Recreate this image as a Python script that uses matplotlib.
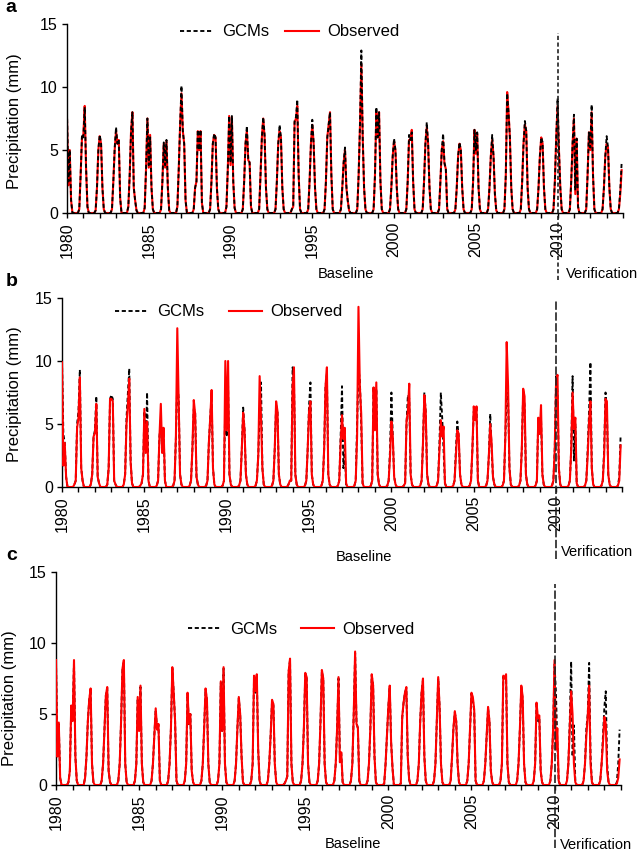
import numpy as np
import matplotlib
matplotlib.use("Agg")
import matplotlib.pyplot as plt
from matplotlib.lines import Line2D

plt.rcParams['font.family'] = ['Liberation Sans', 'DejaVu Sans']

# ---------------- data ----------------
# each season row = [Oct, Nov, Dec (previous year), Jan, Feb, Mar, Apr] for years 1980..2013
start_year = 1980
n_years = 34
tick_years = list(range(1980, 2015))
tick_labels = [str(y) if y % 5 == 0 and y <= 2010 else '' for y in tick_years]
y_ticks = [0, 5, 10, 15]
series_names = ['GCMs', 'Observed']
panel_letters = ['a', 'b', 'c']

obs_a = [
    [0, 0, 0, 7.5, 2.2, 5.0, 1.0], [0.3, 3.0, 6.0, 6.2, 8.5, 3.5, 0.5],
    [0.2, 2.0, 5.0, 6.1, 5.5, 2.0, 0.3], [0.3, 2.5, 5.0, 6.5, 5.5, 5.8, 1.2],
    [0.5, 3.0, 6.5, 8.0, 2.0, 1.0, 0.2], [0.4, 3.5, 7.5, 3.6, 6.2, 2.0, 0.3],
    [0.3, 2.5, 5.5, 3.6, 5.7, 2.0, 0.2], [0.5, 3.5, 7.0, 9.5, 6.5, 5.5, 1.0],
    [0.3, 2.0, 2.5, 6.5, 5.0, 6.5, 0.8], [0.3, 2.5, 5.5, 6.2, 6.0, 2.0, 0.3],
    [0.5, 3.5, 7.7, 3.8, 7.6, 2.5, 0.4], [0.3, 2.5, 5.5, 6.5, 4.2, 4.0, 0.5],
    [0.3, 3.0, 6.0, 7.5, 6.0, 2.0, 0.3], [0.3, 2.5, 5.5, 6.5, 6.0, 2.0, 0.3],
    [0.3, 0.5, 7.2, 7.5, 8.5, 3.0, 0.3], [0.3, 2.5, 5.5, 7.0, 5.5, 2.0, 0.3],
    [0.3, 2.5, 6.0, 7.0, 8.0, 3.0, 0.3], [0.3, 2.0, 4.0, 5.0, 2.0, 1.0, 0.2],
    [0.3, 3.0, 7.0, 11.8, 6.0, 2.0, 0.3], [0.3, 3.0, 8.0, 6.0, 8.0, 2.5, 0.3],
    [0.3, 2.0, 4.5, 5.7, 5.0, 2.0, 0.3], [0.3, 2.5, 5.8, 5.8, 6.6, 2.5, 0.3],
    [0.3, 2.5, 5.5, 6.8, 5.5, 2.0, 0.3], [0.3, 2.5, 5.0, 5.7, 3.9, 3.5, 0.3],
    [0.3, 2.0, 4.5, 5.5, 5.0, 2.0, 0.3], [0.3, 2.5, 6.6, 4.7, 6.3, 2.0, 0.3],
    [0.3, 2.0, 4.5, 5.8, 4.5, 1.5, 0.2], [0.3, 3.0, 9.6, 8.0, 6.0, 2.0, 0.3],
    [0.3, 2.5, 5.5, 7.0, 6.5, 2.0, 0.3], [0.3, 2.0, 4.5, 6.0, 5.5, 2.0, 0.3],
    [0.3, 2.5, 6.0, 8.5, 5.0, 2.0, 0.3], [0.3, 2.5, 5.5, 7.5, 1.5, 5.9, 0.5],
    [0.3, 3.0, 6.4, 5.0, 8.0, 3.0, 0.3], [0.3, 2.0, 4.5, 5.5, 5.2, 2.0, 0.3],
]
obs_a_tail = [0.3, 1.5, 3.4]   # Oct-Dec 2013

gcm_a = [
    [0, 0, 0, 8.0, 2.5, 5.0, 1.0], [0.3, 3.0, 6.2, 6.0, 8.4, 3.6, 0.5],
    [0.2, 2.0, 5.0, 6.2, 5.5, 2.0, 0.3], [0.3, 2.5, 5.2, 6.8, 5.5, 5.8, 1.2],
    [0.5, 3.0, 6.5, 8.0, 2.0, 1.0, 0.2], [0.4, 3.5, 7.5, 3.8, 6.0, 2.0, 0.3],
    [0.3, 2.5, 5.6, 3.8, 5.8, 2.0, 0.2], [0.5, 3.5, 7.0, 10.1, 6.5, 5.5, 1.0],
    [0.3, 2.0, 2.5, 6.6, 5.0, 6.6, 0.8], [0.3, 2.5, 5.5, 6.3, 6.0, 2.0, 0.3],
    [0.5, 3.5, 7.7, 4.0, 7.7, 2.5, 0.4], [0.3, 2.5, 5.5, 6.9, 4.3, 4.0, 0.5],
    [0.3, 3.0, 6.0, 7.6, 6.2, 2.0, 0.3], [0.3, 2.5, 5.5, 7.0, 6.0, 2.0, 0.3],
    [0.3, 0.5, 7.3, 7.6, 9.0, 3.0, 0.3], [0.3, 2.5, 5.5, 7.4, 5.5, 2.0, 0.3],
    [0.3, 2.5, 6.0, 7.0, 8.0, 3.0, 0.3], [0.3, 2.0, 4.0, 5.2, 2.2, 1.0, 0.2],
    [0.3, 3.0, 7.0, 12.9, 6.0, 2.0, 0.3], [0.3, 3.0, 8.4, 6.0, 8.0, 2.5, 0.3],
    [0.3, 2.0, 4.5, 5.9, 5.0, 2.0, 0.3], [0.3, 2.5, 6.2, 5.8, 6.4, 2.5, 0.3],
    [0.3, 2.5, 5.5, 7.2, 5.5, 2.0, 0.3], [0.3, 2.5, 5.0, 6.3, 4.0, 3.5, 0.3],
    [0.3, 2.0, 4.5, 5.6, 5.0, 2.0, 0.3], [0.3, 2.5, 6.6, 5.0, 6.4, 2.0, 0.3],
    [0.3, 2.0, 4.5, 6.2, 4.5, 1.5, 0.2], [0.3, 3.0, 9.5, 8.0, 6.0, 2.0, 0.3],
    [0.3, 2.5, 5.5, 7.3, 6.5, 2.0, 0.3], [0.3, 2.0, 4.5, 6.0, 5.6, 2.0, 0.3],
    [0.3, 2.5, 6.0, 9.1, 5.0, 2.0, 0.3], [0.3, 2.5, 5.5, 7.8, 1.8, 5.9, 0.5],
    [0.3, 3.0, 6.4, 5.2, 8.6, 3.0, 0.3], [0.3, 2.0, 4.5, 6.1, 5.2, 2.0, 0.3],
]
gcm_a_tail = [0.3, 1.8, 4.0]

obs_b = [
    [0, 0, 0, 9.9, 1.7, 3.5, 0.8], [0.2, 0.5, 4.7, 5.5, 8.7, 1.5, 0.5],
    [0.2, 1.0, 4.0, 4.3, 6.6, 0.8, 0.3], [0.2, 1.5, 7.0, 7.0, 6.8, 0.5, 0.2],
    [0.2, 1.0, 5.0, 6.5, 8.6, 2.0, 0.3], [0.1, 0.3, 1.0, 6.2, 2.7, 5.2, 0.5],
    [0.1, 0.5, 4.0, 6.6, 2.7, 4.7, 0.5], [0.1, 0.5, 4.0, 12.6, 7.0, 1.0, 0.2],
    [0.1, 0.5, 3.0, 6.9, 5.8, 0.8, 0.2], [0.1, 0.5, 3.5, 5.5, 7.7, 1.5, 0.2],
    [0.1, 0.5, 10.0, 4.5, 10.0, 1.0, 0.2], [0.1, 0.5, 3.0, 5.9, 4.5, 1.0, 0.2],
    [0.1, 0.5, 2.5, 8.8, 5.5, 1.5, 0.2], [0.1, 0.5, 3.0, 6.8, 6.0, 1.0, 0.2],
    [0.2, 0.5, 0.5, 8.0, 9.5, 1.0, 0.2], [0.1, 0.5, 3.0, 6.0, 6.8, 1.0, 0.2],
    [0.1, 0.5, 3.0, 8.0, 9.5, 1.0, 0.2], [0.1, 0.5, 3.5, 5.7, 3.8, 4.7, 0.3],
    [0.1, 0.5, 4.0, 14.3, 8.0, 5.8, 0.3], [0.1, 0.5, 7.9, 4.5, 8.3, 1.0, 0.2],
    [0.1, 0.5, 2.5, 5.2, 4.0, 0.8, 0.2], [0.1, 0.3, 5.2, 6.0, 8.2, 1.0, 0.2],
    [0.1, 0.5, 3.5, 7.3, 6.0, 1.0, 0.2], [0.1, 0.5, 3.0, 5.3, 4.0, 4.8, 0.3],
    [0.1, 0.5, 2.5, 4.5, 4.2, 1.0, 0.2], [0.1, 0.5, 3.0, 6.4, 5.3, 6.4, 0.5],
    [0.1, 0.5, 2.5, 5.0, 3.5, 0.8, 0.2], [0.1, 0.5, 4.0, 11.5, 8.0, 1.5, 0.2],
    [0.1, 0.5, 3.0, 7.8, 7.2, 1.0, 0.2], [0.1, 0.5, 5.5, 4.2, 6.5, 1.0, 0.2],
    [0.1, 0.5, 3.0, 8.5, 8.9, 1.5, 0.2], [0.1, 0.5, 3.0, 7.5, 4.6, 5.5, 0.3],
    [0.1, 0.5, 2.5, 5.2, 6.8, 1.5, 0.2], [0.1, 0.5, 2.5, 7.0, 6.8, 1.0, 0.2],
]
obs_b_tail = [0.1, 0.5, 3.3]

gcm_b = [
    [0, 0, 0, 10.0, 4.2, 3.5, 0.8], [0.2, 0.5, 5.0, 6.0, 9.3, 1.5, 0.5],
    [0.2, 1.0, 4.0, 4.5, 7.2, 0.8, 0.3], [0.2, 1.5, 7.0, 7.3, 7.0, 0.5, 0.2],
    [0.2, 1.0, 5.5, 7.5, 9.4, 2.0, 0.3], [0.1, 0.3, 1.0, 6.0, 3.0, 7.5, 0.5],
    [0.1, 0.5, 4.0, 5.3, 3.0, 4.5, 0.5], [0.1, 0.5, 4.0, 8.5, 7.0, 1.0, 0.2],
    [0.1, 0.5, 3.0, 6.2, 6.0, 0.8, 0.2], [0.1, 0.5, 3.5, 5.5, 7.3, 1.5, 0.2],
    [0.1, 0.5, 7.0, 4.0, 8.0, 1.0, 0.2], [0.1, 0.5, 3.0, 6.3, 4.5, 1.0, 0.2],
    [0.1, 0.5, 2.5, 6.0, 8.3, 1.5, 0.2], [0.1, 0.5, 3.0, 6.5, 6.0, 1.0, 0.2],
    [0.2, 0.5, 0.5, 9.5, 8.5, 1.0, 0.2], [0.1, 0.5, 3.0, 6.5, 8.3, 1.0, 0.2],
    [0.1, 0.5, 3.0, 8.0, 9.0, 1.0, 0.2], [0.1, 0.5, 4.0, 8.0, 1.5, 3.0, 0.2],
    [0.1, 0.5, 5.0, 9.4, 8.5, 5.0, 0.3], [0.1, 0.5, 8.0, 5.0, 7.8, 1.0, 0.2],
    [0.1, 0.5, 3.0, 7.5, 4.0, 0.8, 0.2], [0.1, 0.3, 5.0, 7.3, 7.0, 1.0, 0.2],
    [0.1, 0.5, 3.5, 7.5, 6.0, 1.0, 0.2], [0.1, 0.5, 3.5, 7.5, 5.5, 3.0, 0.3],
    [0.1, 0.5, 3.0, 5.2, 4.0, 1.0, 0.2], [0.1, 0.5, 3.0, 6.0, 5.5, 6.4, 0.5],
    [0.1, 0.5, 2.5, 5.8, 3.0, 0.8, 0.2], [0.1, 0.5, 4.0, 7.5, 7.0, 1.5, 0.2],
    [0.1, 0.5, 3.0, 7.5, 6.5, 1.0, 0.2], [0.1, 0.5, 5.5, 4.5, 5.5, 1.0, 0.2],
    [0.1, 0.5, 3.0, 8.8, 7.5, 1.5, 0.2], [0.1, 0.5, 3.0, 8.8, 2.1, 5.0, 0.3],
    [0.1, 0.5, 3.0, 6.0, 9.9, 1.5, 0.2], [0.1, 0.5, 3.0, 7.5, 6.0, 1.0, 0.2],
]
gcm_b_tail = [0.1, 0.8, 4.1]

obs_c = [
    [0, 0, 0, 8.8, 2.0, 4.4, 0.5], [0.2, 1.0, 5.6, 4.5, 8.8, 2.0, 0.3],
    [0.5, 2.0, 4.5, 6.0, 6.8, 1.5, 0.2], [0.3, 1.5, 4.0, 6.3, 6.9, 1.0, 0.2],
    [0.3, 1.5, 4.5, 8.2, 8.8, 1.5, 0.2], [0.3, 1.5, 6.2, 3.8, 7.0, 1.5, 0.2],
    [0.3, 1.5, 3.5, 5.4, 3.9, 4.3, 0.3], [0.3, 1.5, 4.0, 8.3, 6.5, 4.5, 0.3],
    [0.3, 1.5, 6.5, 4.3, 5.0, 1.0, 0.2], [0.3, 1.5, 4.0, 6.8, 6.0, 1.5, 0.2],
    [0.3, 1.5, 7.3, 3.8, 8.3, 1.5, 0.2], [0.3, 1.5, 4.0, 6.2, 5.0, 2.0, 0.2],
    [0.3, 1.5, 7.7, 6.6, 7.8, 2.5, 0.3], [0.3, 1.5, 3.5, 6.0, 5.7, 1.5, 0.2],
    [0.1, 0.3, 0.6, 8.0, 8.9, 1.5, 0.2], [0.3, 1.5, 4.0, 7.9, 7.6, 1.5, 0.2],
    [0.3, 1.5, 4.5, 8.1, 7.5, 1.5, 0.2], [0.3, 1.5, 4.0, 7.6, 1.6, 2.3, 0.2],
    [0.3, 1.5, 5.0, 9.4, 4.3, 4.0, 0.3], [0.3, 1.5, 4.0, 7.8, 7.0, 2.0, 0.2],
    [0.1, 1.5, 3.5, 5.5, 7.0, 3.0, 1.2], [0.1, 4.8, 5.8, 6.5, 6.9, 2.0, 0.4],
    [0.3, 1.5, 4.5, 6.5, 7.5, 2.0, 0.3], [0.3, 1.5, 4.5, 7.6, 5.5, 1.5, 0.2],
    [0.3, 2.0, 4.0, 5.2, 4.5, 1.5, 0.2], [0.3, 1.5, 4.0, 6.5, 6.2, 5.3, 0.3],
    [0.3, 1.5, 3.5, 5.5, 4.5, 1.0, 0.2], [0.3, 1.5, 7.7, 7.5, 7.8, 1.5, 0.2],
    [0.3, 1.5, 4.0, 7.0, 6.2, 1.5, 0.2], [0.3, 1.5, 5.8, 4.7, 4.9, 1.0, 0.2],
    [0.3, 1.5, 4.0, 8.8, 2.5, 4.0, 0.3], [0.3, 1.5, 4.0, 6.6, 5.0, 1.5, 0.2],
    [0.3, 1.5, 3.5, 4.9, 7.0, 1.5, 0.2], [0.3, 1.5, 3.0, 4.8, 4.3, 1.0, 0.2],
]
obs_c_tail = [0.1, 0.5, 1.8]

gcm_c = [
    [0, 0, 0, 8.7, 2.2, 4.3, 0.5], [0.2, 1.0, 5.5, 4.5, 8.7, 2.0, 0.3],
    [0.5, 2.0, 4.5, 6.0, 6.7, 1.5, 0.2], [0.3, 1.5, 4.0, 6.3, 6.8, 1.0, 0.2],
    [0.3, 1.5, 4.5, 8.1, 8.7, 1.5, 0.2], [0.3, 1.5, 6.1, 3.8, 6.9, 1.5, 0.2],
    [0.3, 1.5, 3.5, 5.3, 3.9, 4.2, 0.3], [0.3, 1.5, 4.0, 8.2, 6.5, 4.5, 0.3],
    [0.3, 1.5, 6.4, 4.2, 5.0, 1.0, 0.2], [0.3, 1.5, 4.0, 6.7, 6.0, 1.5, 0.2],
    [0.3, 1.5, 7.2, 3.8, 8.2, 1.5, 0.2], [0.3, 1.5, 4.0, 6.1, 5.0, 2.0, 0.2],
    [0.3, 1.5, 7.6, 6.5, 7.7, 2.5, 0.3], [0.3, 1.5, 3.5, 5.9, 5.6, 1.5, 0.2],
    [0.1, 0.3, 0.6, 8.0, 8.8, 1.5, 0.2], [0.3, 1.5, 4.0, 7.8, 7.6, 1.5, 0.2],
    [0.3, 1.5, 4.5, 8.0, 7.4, 1.5, 0.2], [0.3, 1.5, 4.0, 7.5, 2.0, 2.2, 0.2],
    [0.3, 1.5, 5.0, 9.3, 4.4, 4.0, 0.3], [0.3, 1.5, 4.0, 7.7, 7.0, 2.0, 0.2],
    [0.1, 1.5, 3.5, 5.5, 6.9, 3.0, 1.2], [0.1, 4.7, 5.8, 6.5, 6.8, 2.0, 0.4],
    [0.3, 1.5, 4.5, 6.5, 7.4, 2.0, 0.3], [0.3, 1.5, 4.5, 7.5, 5.5, 1.5, 0.2],
    [0.3, 2.0, 4.0, 5.1, 4.5, 1.5, 0.2], [0.3, 1.5, 4.0, 6.4, 6.0, 5.2, 0.3],
    [0.3, 1.5, 3.5, 5.4, 4.5, 1.0, 0.2], [0.3, 1.5, 7.6, 7.4, 7.7, 1.5, 0.2],
    [0.3, 1.5, 4.0, 6.9, 6.0, 1.5, 0.2], [0.3, 1.5, 5.7, 4.5, 4.8, 1.0, 0.2],
    [0.3, 1.5, 4.0, 8.5, 6.6, 3.0, 0.3], [0.3, 1.5, 4.5, 8.7, 2.0, 4.2, 0.3],
    [0.3, 1.5, 4.0, 5.0, 8.6, 2.0, 0.2], [0.3, 1.5, 3.5, 5.5, 6.6, 1.5, 0.2],
]
gcm_c_tail = [0.2, 1.5, 3.9]


def monthly(seasons, tail):
    n = 12 * n_years
    v = np.zeros(n)
    for k, s in enumerate(seasons):
        for j in range(3):
            idx = 12 * k - 3 + j
            if idx >= 0:
                v[idx] = s[j]
        for j in range(4):
            v[12 * k + j] = s[3 + j]
    for j, val in enumerate(tail):
        v[n - 3 + j] = val
    return v


t = start_year + np.arange(12 * n_years) / 12.0

panels = [
    (monthly(gcm_a, gcm_a_tail), monthly(obs_a, obs_a_tail)),
    (monthly(gcm_b, gcm_b_tail), monthly(obs_b, obs_b_tail)),
    (monthly(gcm_c, gcm_c_tail), monthly(obs_c, obs_c_tail)),
]

# ---------------- layout ----------------
W, H = 638, 852
fig = plt.figure(figsize=(W / 100, H / 100), dpi=100)

# axes rectangles in pixels: left, right, top, bottom
rects = [(67, 623, 24, 213), (62, 622, 298, 487), (56, 621, 572, 785)]
gcm_on_top = [True, False, False]
vline_ext = [(-0.354, 0.952, (0, (2.5, 1.5))), (-0.381, 0.984, (0, (5, 1.5))), (-0.296, 0.944, (0, (5, 1.5)))]
legend_pos = [(180, 32, 1.0), (115, 312, 1.5), (188, 629, 1.45)]
ylabel_pos = [(15, 121), (15, 394), (10, 698)]
letter_pos = [(11, 8), (12, 281), (12, 555)]
baseline_pos = [(346, 274), (364, 557), (353, 844)]
verif_pos = [(566, 274), (561, 552), (560, 845)]

for i, (l, r, tp, bt) in enumerate(rects):
    ax = fig.add_axes([l / W, 1 - bt / H, (r - l) / W, (bt - tp) / H])
    gcm, obs = panels[i]
    zg, zo = (3, 2) if gcm_on_top[i] else (2, 3)
    ax.plot(t, gcm, color='black', lw=1.35, linestyle=(0, (2.2, 1.4)), zorder=zg, label=series_names[0])
    ax.plot(t, obs, color='#ff0000', lw=1.5, zorder=zo, label=series_names[1])

    ax.set_xlim(1980, 2014)
    ax.set_ylim(0, 15)
    ax.set_xticks(tick_years)
    ax.set_xticklabels(tick_labels, rotation=90, fontsize=11.5)
    ax.set_yticks(y_ticks)
    ax.set_yticklabels([str(v) for v in y_ticks], fontsize=11.5)
    ax.tick_params(axis='both', direction='out', length=3.5, width=1, color='black', pad=3)
    for s in ['top', 'right']:
        ax.spines[s].set_visible(False)
    for s in ['left', 'bottom']:
        ax.spines[s].set_linewidth(1.0)
        ax.spines[s].set_color('black')
    ax.patch.set_alpha(0)

    ymin, ymax, ls = vline_ext[i]
    ax.axvline(2010, ymin=ymin, ymax=ymax, color='#222222', lw=1.2, linestyle=ls, clip_on=False, zorder=4)

    yx, yy = ylabel_pos[i]
    fig.text(yx / W, 1 - yy / H, 'Precipitation (mm)', rotation=90, ha='center', va='center', fontsize=12)
    lx, ly = letter_pos[i]
    fig.text(lx / W, 1 - ly / H, panel_letters[i], ha='center', va='center', fontsize=14, fontweight='bold')
    bx, by = baseline_pos[i]
    fig.text(bx / W, 1 - by / H, 'Baseline', ha='center', va='center', fontsize=10.5)
    vx, vy = verif_pos[i]
    fig.text(vx / W, 1 - vy / H, 'Verification', ha='left', va='center', fontsize=10.5)

    gx, gy, cs = legend_pos[i]
    handles = [Line2D([], [], color='black', lw=1.35, linestyle=(0, (2.2, 1.4))),
               Line2D([], [], color='#ff0000', lw=1.5)]
    leg = ax.legend(handles, series_names, ncol=2, frameon=False, loc='center left',
                    bbox_to_anchor=(gx / W, 1 - gy / H), bbox_transform=fig.transFigure,
                    fontsize=12, handlelength=2.0, handletextpad=0.5, columnspacing=cs,
                    borderpad=0, borderaxespad=0)
    leg.set_zorder(10)

fig.savefig('out.png', dpi=100)
